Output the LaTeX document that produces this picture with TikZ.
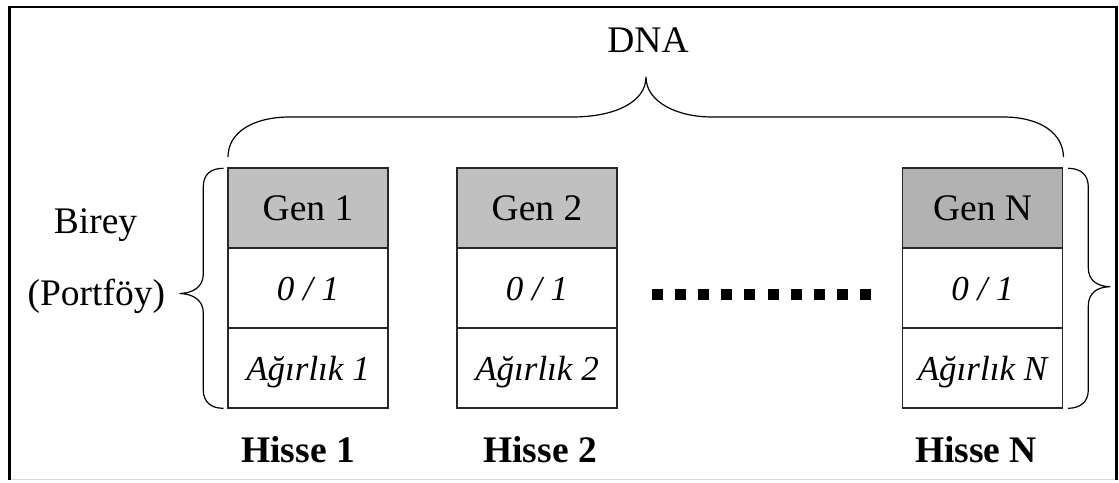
\documentclass[tikz,border=0pt]{standalone}
\usepackage{fontspec}
\setmainfont{Liberation Serif}
\definecolor{genfill}{RGB}{192,192,192}
\definecolor{genNfill}{RGB}{178,178,178}
\definecolor{cellline}{RGB}{40,40,40}
\begin{document}
\begin{tikzpicture}[x=1pt,y=-1pt,
  every node/.style={font=\fontsize{37.5}{42}\selectfont},
  cell/.style={draw=cellline, line width=1.4pt, minimum width=160pt,
    minimum height=80pt, inner sep=0pt, text height=25pt, text depth=0pt},
  gencell/.style={cell, fill=genfill},
  genNcell/.style={cell, fill=genNfill},
  valcell/.style={cell, fill=white, font=\fontsize{35}{40}\selectfont\itshape},
  label/.style={anchor=base, inner sep=0pt},
  stock/.style={label, font=\fontsize{37.5}{42}\selectfont\bfseries},
  brace/.style={draw=black, line width=1.2pt, line join=round}
]
\useasboundingbox (0,0) rectangle (1119,482);

% frame
\draw[black!15, line width=1.5pt] (9,479.5) -- (1119,479.5);
\draw[black, line width=2.6pt] (9.5,480) -- (9.5,7) -- (1116.5,7) -- (1116.5,480);

% chromosome columns
\foreach \n/\x/\lab/\st in {1/308/1/gencell, 2/537/2/gencell, N/982.5/N/genNcell}{
  \node[\st]     (g\n) at (\x,208) {Gen \lab};
  \node[valcell] (b\n) at (\x,288) {0 / 1};
  \node[valcell] (w\n) at (\x,368) {Ağırlık \lab};
}

% ellipsis between gene 2 and gene N
\foreach \i in {0,...,9}
  \fill[black] (652+\i*23.1,288.5) rectangle ++(11,11);

% stock labels
\node[stock] (h1) at (298,462.3) {Hisse 1};
\node[stock] (h2) at (540,462.3) {Hisse 2};
\node[stock] (hN) at (976,462.3) {Hisse N};

% individual label
\node[label] (birey) at (95.5,233) {Birey};
\node[label] (portfoy) at (96.4,305) {(Portföy)};

% DNA label and brace
\node[label] (dna) at (648,52.7) {DNA};
\draw[brace] (228,157) .. controls (228,133) and (252,117) .. (290,117)
  -- (572,117) .. controls (615,117) and (646,102) .. (646,77)
  .. controls (646,102) and (677,117) .. (712,117)
  -- (1003,117) .. controls (1040,117) and (1063,133) .. (1063.5,157);

% left brace
\draw[brace] (223.5,168.3) .. controls (211,168.3) and (203.3,174) .. (203.3,187)
  -- (203.3,274) .. controls (203.3,287) and (193,293) .. (180,293.5)
  .. controls (193,294) and (203.3,300) .. (203.3,313)
  -- (203.3,390) .. controls (203.3,402) and (211,408.3) .. (223.5,408.3);

% right brace
\draw[brace] (1068,168.3) .. controls (1080,168.3) and (1088.3,174) .. (1088.3,187)
  -- (1088.3,268) .. controls (1088.3,280) and (1097,286.5) .. (1110,286.7)
  .. controls (1097,287) and (1088.3,293) .. (1088.3,306)
  -- (1088.3,390) .. controls (1088.3,402) and (1080,408.3) .. (1068,408.3);
\end{tikzpicture}
\end{document}
